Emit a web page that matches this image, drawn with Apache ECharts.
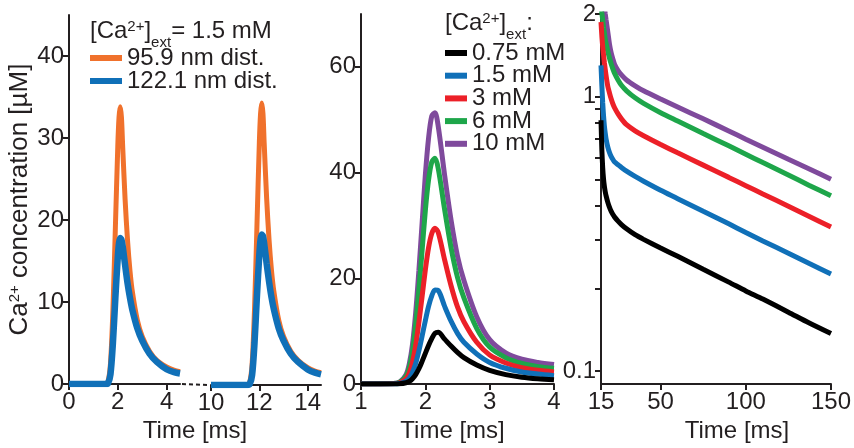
<!DOCTYPE html>
<html>
<head>
<meta charset="utf-8">
<script src="https://cdn.jsdelivr.net/npm/echarts@6/dist/echarts.min.js"></script>
<style>
  html, body { margin: 0; padding: 0; background: #fff; }
  #chart { width: 854px; height: 448px; }
</style>
</head>
<body>
<div id="chart"></div>
<script>
// ---- Panel 1: two successive spikes at [Ca2+]ext = 1.5 mM, two channel distances
const spikeTimesA = [0, 1.5, 1.6, 1.7, 1.8, 1.9, 2.0, 2.05, 2.1, 2.15, 2.2, 2.3, 2.4, 2.5, 2.6, 2.8, 3.0, 3.3, 3.6, 4.0, 4.3, 4.55];
const spikeTimesB = [10, 11.5, 11.6, 11.7, 11.8, 11.9, 12.0, 12.05, 12.1, 12.15, 12.2, 12.3, 12.4, 12.5, 12.6, 12.8, 13.0, 13.3, 13.6, 14.0, 14.3, 14.55];
const nearSpikeA = [0, 0, 0.3, 2.5, 9, 19, 29, 32.5, 33.8, 32.5, 29, 22.5, 17.5, 13.8, 11.2, 7.8, 5.8, 4.0, 2.9, 2.1, 1.7, 1.5];
const farSpikeA  = [0, 0, 0.1, 1.2, 5, 10.5, 15.5, 17.2, 17.8, 17.6, 16.8, 14.5, 12.3, 10.5, 9.0, 6.8, 5.3, 3.7, 2.7, 1.8, 1.45, 1.3];
const nearSpikeB = [0, 0, 0.3, 2.5, 9.2, 19.3, 29.5, 33, 34.3, 33, 29.4, 22.8, 17.7, 14, 11.4, 7.9, 5.9, 4.1, 3.0, 2.1, 1.7, 1.5];
const farSpikeB  = [0, 0, 0.1, 1.2, 5.1, 10.8, 15.9, 17.7, 18.3, 18.1, 17.2, 14.8, 12.6, 10.7, 9.2, 6.9, 5.4, 3.8, 2.8, 1.9, 1.5, 1.3];
const distNames = ['95.9 nm dist.', '122.1 nm dist.'];
const p1XTicksA = [0, 2, 4];
const p1XTicksB = [10, 12, 14];
const p1YTicks = [0, 10, 20, 30, 40];

// ---- Panel 2: single spike for each external calcium level
const riseTimes = [1, 1.5, 1.6, 1.7, 1.75, 1.8, 1.85, 1.9, 1.95, 2.0, 2.05, 2.1, 2.15, 2.2, 2.3, 2.4, 2.5, 2.6, 2.8, 3.0, 3.25, 3.5, 3.75, 4.0];
const rise075 = [0, 0.01, 0.05, 0.25, 0.5, 1.0, 1.8, 2.9, 4.3, 5.8, 7.3, 8.6, 9.6, 9.8, 8.5, 7.2, 6.0, 5.0, 3.6, 2.6, 1.8, 1.3, 1.0, 0.8];
const rise15  = [0, 0.02, 0.12, 0.55, 1.1, 2.2, 3.9, 6.3, 9.1, 12.0, 14.7, 16.7, 17.8, 17.7, 14.7, 11.9, 9.6, 7.9, 5.7, 4.1, 3.0, 2.3, 1.9, 1.6];
const rise3   = [0, 0.05, 0.25, 1.0, 2.1, 4.1, 7.3, 11.7, 16.6, 21.6, 25.8, 28.5, 29.5, 28.7, 23.5, 18.6, 14.6, 11.8, 7.9, 5.5, 4.0, 3.1, 2.6, 2.3];
const rise6   = [0, 0.1, 0.35, 1.5, 3.1, 6.2, 11.2, 17.8, 25.3, 32.8, 38.6, 42.0, 42.7, 40.8, 33.0, 25.8, 20.2, 16.3, 10.5, 7.0, 5.0, 3.9, 3.3, 3.0];
const rise10  = [0, 0.1, 0.4, 1.8, 3.8, 7.5, 13.5, 21.5, 30.5, 39.5, 46.5, 50.7, 51.3, 48.8, 39.5, 31.0, 24.2, 19.6, 12.7, 8.4, 5.9, 4.7, 4.1, 3.7];
const concNames = ['0.75 mM', '1.5 mM', '3 mM', '6 mM', '10 mM'];
const p2XTicks = [1, 2, 3, 4];
const p2YTicks = [0, 20, 40, 60];

// ---- Panel 3: slow residual decay, log scale
const tailTimes = [15, 15.5, 16, 16.5, 17, 17.5, 18, 19, 20, 21, 22, 23, 25, 27, 30, 35, 40, 50, 60, 75, 90, 100, 110, 125, 137, 150];
const tail075 = [0.82, 0.64, 0.55, 0.5, 0.47, 0.45, 0.435, 0.412, 0.395, 0.382, 0.372, 0.364, 0.352, 0.342, 0.33, 0.314, 0.302, 0.281, 0.262, 0.235, 0.211, 0.196, 0.183, 0.164, 0.15, 0.137];
const tail15  = [1.3, 1.1, 0.95, 0.85, 0.78, 0.735, 0.7, 0.655, 0.625, 0.605, 0.59, 0.578, 0.565, 0.552, 0.535, 0.512, 0.492, 0.456, 0.425, 0.382, 0.344, 0.32, 0.298, 0.269, 0.247, 0.226];
const tail3   = [1.87, 1.66, 1.52, 1.42, 1.33, 1.255, 1.19, 1.09, 1.03, 0.98, 0.94, 0.91, 0.865, 0.83, 0.79, 0.75, 0.72, 0.669, 0.624, 0.563, 0.508, 0.474, 0.442, 0.399, 0.367, 0.335];
const tail6   = [2.18, 2.02, 1.9, 1.79, 1.7, 1.62, 1.56, 1.46, 1.38, 1.315, 1.26, 1.215, 1.15, 1.1, 1.05, 0.99, 0.945, 0.874, 0.815, 0.734, 0.662, 0.617, 0.575, 0.518, 0.476, 0.435];
const tail10  = [2.7, 2.55, 2.4, 2.25, 2.12, 2.0, 1.9, 1.72, 1.55, 1.44, 1.37, 1.31, 1.245, 1.2, 1.15, 1.095, 1.05, 0.98, 0.917, 0.83, 0.75, 0.7, 0.654, 0.591, 0.546, 0.5];
const p3XTicks = [15, 50, 100, 150];
const p3YTicks = [0.1, 0.2, 0.3, 0.4, 0.5, 0.6, 0.7, 0.8, 0.9, 1, 2];
const p3YLabels = [0.1, 1, 2];

const FONT = '"Liberation Sans", Arial, Helvetica, sans-serif';
const INK = '#231f20';
const COLORS = {
  near: '#f0712c',
  far: '#1070b8',
  c075: '#000000',
  c15: '#1070b8',
  c3: '#ec2028',
  c6: '#1ea64a',
  c10: '#7f4a9c'
};

const zip = (xs, ys) => xs.map((x, i) => [x, ys[i]]);

function curve(name, axis, xs, ys, color, width, smooth) {
  return {
    type: 'line', name: name,
    xAxisIndex: axis, yAxisIndex: axis,
    data: zip(xs, ys),
    symbol: 'none', smooth: smooth,
    lineStyle: { color: color, width: width, cap: 'butt' },
    itemStyle: { color: color },
    emphasis: { disabled: true },
    silent: true
  };
}

const labelStyle = { color: INK, fontSize: 24, fontFamily: FONT };
const lineStyle = { color: INK, width: 2 };

function xAxis(grid, min, max, ticks, extra) {
  return Object.assign({
    type: 'value', gridIndex: grid, min: min, max: max,
    axisLine: { show: true, onZero: false, lineStyle: lineStyle },
    axisTick: { show: true, length: 6, customValues: ticks, lineStyle: lineStyle },
    axisLabel: Object.assign({ margin: 6, customValues: ticks }, labelStyle),
    splitLine: { show: false }
  }, extra || {});
}
function yAxis(grid, type, min, max, ticks, labels, extra) {
  return Object.assign({
    type: type, gridIndex: grid, min: min, max: max,
    axisLine: { show: true, onZero: false, lineStyle: lineStyle },
    axisTick: { show: true, length: 6, customValues: ticks, lineStyle: lineStyle },
    axisLabel: Object.assign({ margin: 5, customValues: labels }, labelStyle),
    splitLine: { show: false }
  }, extra || {});
}
function timeName(padding) {
  return {
    name: 'Time [ms]', nameLocation: 'middle', nameGap: 28,
    nameTextStyle: { color: INK, fontSize: 24, fontFamily: FONT, padding: padding }
  };
}

const chart = echarts.init(document.getElementById('chart'), null, { renderer: 'canvas' });

chart.setOption({
  animation: false,
  textStyle: { fontFamily: FONT },
  grid: [
    { left: 69, top: 15, width: 111, height: 370 },
    { left: 211, top: 15, width: 110, height: 370 },
    { left: 361, top: 14, width: 193, height: 371 },
    { left: 601, top: 14, width: 230, height: 372 }
  ],
  xAxis: [
    xAxis(0, 0, 4.55, p1XTicksA, timeName([0, 0, 0, 141])),
    xAxis(1, 10, 14.55, p1XTicksB),
    xAxis(2, 1, 4, p2XTicks, timeName([0, 10, 0, 0])),
    xAxis(3, 15, 150, p3XTicks, timeName([0, 0, 0, 42]))
  ],
  yAxis: [
    yAxis(0, 'value', 0, 45, p1YTicks, p1YTicks, {
      name: 'Ca{sup|2+} concentration [µM]',
      nameLocation: 'middle', nameGap: 36,
      nameTextStyle: {
        color: INK, fontSize: 26, fontFamily: FONT,
        rich: { sup: { fontSize: 15, lineHeight: 15, padding: [0, 0, 10, 0], color: INK, fontFamily: FONT } }
      }
    }),
    yAxis(1, 'value', 0, 45, p1YTicks, p1YTicks, { show: false }),
    yAxis(2, 'value', 0, 70, p2YTicks, p2YTicks),
    yAxis(3, 'log', 0.0897, 2, p3YTicks, p3YLabels, { logBase: 10 })
  ],
  legend: [
    {
      data: distNames, orient: 'vertical', left: 90, top: 46, padding: 0,
      itemWidth: 32, itemHeight: 6, itemGap: -1, icon: 'rect', selectedMode: false,
      textStyle: { color: INK, fontSize: 24, lineHeight: 21, fontFamily: FONT }
    },
    {
      data: concNames, orient: 'vertical', left: 445, top: 41, padding: 0,
      itemWidth: 22, itemHeight: 6, itemGap: -1.3, icon: 'rect', selectedMode: false,
      textStyle: { color: INK, fontSize: 24, lineHeight: 21.5, fontFamily: FONT }
    }
  ],
  series: [
    curve(distNames[0], 0, spikeTimesA, nearSpikeA, COLORS.near, 5, 0.3),
    curve(distNames[1], 0, spikeTimesA, farSpikeA, COLORS.far, 6.5, 0.3),
    curve(distNames[0], 1, spikeTimesB, nearSpikeB, COLORS.near, 5, 0.3),
    curve(distNames[1], 1, spikeTimesB, farSpikeB, COLORS.far, 6.5, 0.3),

    curve(concNames[4], 2, riseTimes, rise10, COLORS.c10, 5, 0.3),
    curve(concNames[3], 2, riseTimes, rise6, COLORS.c6, 5, 0.3),
    curve(concNames[2], 2, riseTimes, rise3, COLORS.c3, 5, 0.3),
    curve(concNames[1], 2, riseTimes, rise15, COLORS.c15, 5, 0.3),
    curve(concNames[0], 2, riseTimes, rise075, COLORS.c075, 5, 0.3),

    curve(concNames[4], 3, tailTimes, tail10, COLORS.c10, 5, 0.25),
    curve(concNames[3], 3, tailTimes, tail6, COLORS.c6, 5, 0.25),
    curve(concNames[2], 3, tailTimes, tail3, COLORS.c3, 5, 0.25),
    curve(concNames[1], 3, tailTimes, tail15, COLORS.c15, 5, 0.25),
    curve(concNames[0], 3, tailTimes, tail075, COLORS.c075, 5, 0.25)
  ]
});

// Headings of the two legends and the broken-axis marker between the two spike windows
const gapStart = chart.convertToPixel({ gridIndex: 0 }, [4.55, 0]);
const gapEnd = chart.convertToPixel({ gridIndex: 1 }, [10, 0]);
const headingRich = {
  sup: { fontSize: 15, lineHeight: 15, padding: [0, 0, 10, 0], fill: INK, fontFamily: FONT },
  sub: { fontSize: 15, lineHeight: 15, padding: [22, 0, 0, 0], fill: INK, fontFamily: FONT }
};
chart.setOption({
  graphic: [
    {
      type: 'text', left: 90, top: 13, silent: true,
      style: {
        text: '[Ca{sup|2+}]{sub|ext}= 1.5 mM',
        fill: INK, fontSize: 24, fontFamily: FONT, rich: headingRich
      }
    },
    {
      type: 'text', left: 445, top: 5, silent: true,
      style: {
        text: '[Ca{sup|2+}]{sub|ext}:',
        fill: INK, fontSize: 24, fontFamily: FONT, rich: headingRich
      }
    },
    {
      type: 'line', silent: true,
      shape: { x1: gapStart[0] + 2, y1: gapStart[1], x2: gapEnd[0] - 2, y2: gapEnd[1] },
      style: { stroke: INK, lineWidth: 2, lineDash: [4, 3] }
    }
  ]
});
</script>
</body>
</html>
